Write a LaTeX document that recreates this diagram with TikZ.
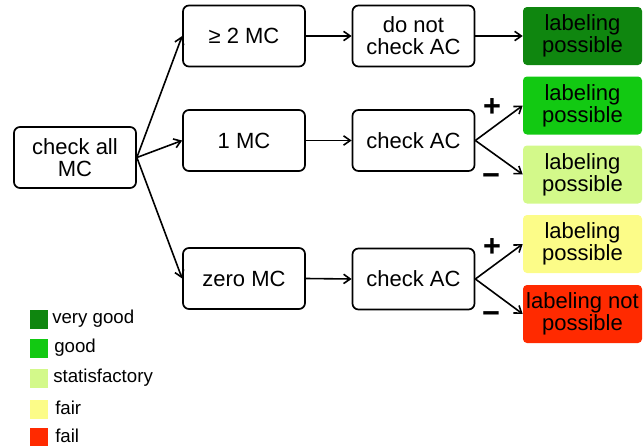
\documentclass[tikz,border=0pt]{standalone}
\usepackage{fontspec}
\setmainfont{Liberation Sans}
\usetikzlibrary{arrows.meta}
\definecolor{verygood}{HTML}{0F860F}
\definecolor{good}{HTML}{12C912}
\definecolor{satisf}{HTML}{D3F98A}
\definecolor{fair}{HTML}{FCFC88}
\definecolor{fail}{HTML}{FF2A00}
\begin{document}
\begin{tikzpicture}[x=0.75pt,y=-0.75pt,
  font=\fontsize{16.5}{16.5}\selectfont,
  stepbox/.style={draw, line width=1.3pt, rounded corners=4.5pt,
    minimum width=91.5pt, minimum height=45.75pt, align=center, inner sep=1pt},
  result/.style={rounded corners=3pt, minimum width=89.25pt,
    minimum height=43.5pt, align=center, inner sep=0pt},
  link/.style={-{Straight Barb[length=5pt,width=7pt]}, line width=1.2pt},
  sign/.style={font=\fontsize{23}{23}\selectfont\bfseries, inner sep=0pt},
  legbox/.style={minimum width=13.5pt, minimum height=14.25pt, inner sep=0pt},
  legtext/.style={anchor=west, font=\fontsize{14}{14}\selectfont, inner sep=0pt}]

\useasboundingbox (0,0) rectangle (643,446);

% decision steps
\node[stepbox] (all)  at (75,157.5)   {check all\\MC};
\node[stepbox] (two)  at (244,36)     {≥ 2 MC};
\node[stepbox] (one)  at (244,140.5)  {1 MC};
\node[stepbox] (zero) at (244,278.5)  {zero MC};
\node[stepbox] (noac) at (413.5,36)   {do not\\check AC};
\node[stepbox] (acone) at (413.5,140.5) {check AC};
\node[stepbox] (aczero) at (413.5,279) {check AC};

% outcomes
\node[result, fill=verygood] (r1) at (582.5,36)    {labeling\\possible};
\node[result, fill=good]     (r2) at (582.5,105.5) {labeling\\possible};
\node[result, fill=satisf]   (r3) at (582.5,174.5) {labeling\\possible};
\node[result, fill=fair]     (r4) at (582.5,244)   {labeling\\possible};
\node[result, fill=fail]     (r5) at (582.5,314)   {labeling not\\possible};

% connectors
\draw[link] (all.east) -- (two.west);
\draw[link] (all.east) -- (one.west);
\draw[link] (all.east) -- (zero.west);
\draw[link] (two.east) -- (noac.west);
\draw[link] (one.east) -- (acone.west);
\draw[link] (zero.east) -- (aczero.west);
\draw[link] (noac.east) -- (r1.west);
\draw[link] (acone.east) -- (r2.west);
\draw[link] (acone.east) -- (r3.west);
\draw[link] (aczero.east) -- (r4.west);
\draw[link] (aczero.east) -- (r5.west);

% branch signs
\node[sign] (p1) at (492,108) {+};
\node[sign] (m1) at (491,180) {−};
\node[sign] (p2) at (492,248) {+};
\node[sign] (m2) at (491,318) {−};

% legend
\node[legbox, fill=verygood] (l1) at (39,319.5) {};
\node[legbox, fill=good]     (l2) at (39,348.5) {};
\node[legbox, fill=satisf]   (l3) at (39,378.5) {};
\node[legbox, fill=fair]     (l4) at (39,409)   {};
\node[legbox, fill=fail]     (l5) at (39,437)   {};
\node[legtext] (t1) at (52,318.5) {very good};
\node[legtext] (t2) at (54,347.5) {good};
\node[legtext] (t3) at (53,377.5) {statisfactory};
\node[legtext] (t4) at (55,407.5) {fair};
\node[legtext] (t5) at (55,435.5) {fail};
\end{tikzpicture}
\end{document}
